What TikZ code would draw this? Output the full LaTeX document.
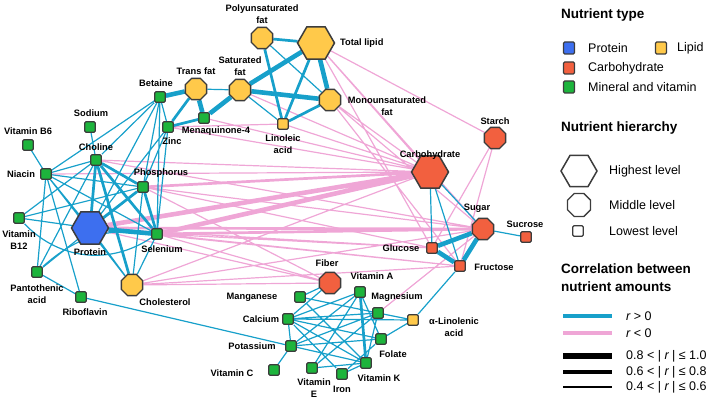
\documentclass[tikz,border=0pt]{standalone}
\usepackage{fontspec}
\setmainfont{Liberation Sans}
\usetikzlibrary{shapes.geometric}
\definecolor{protblue}{HTML}{3D6FEF}
\definecolor{lipyellow}{HTML}{FFC94A}
\definecolor{carbred}{HTML}{F2603F}
\definecolor{minegreen}{HTML}{1DB43C}
\definecolor{nodeline}{HTML}{3C3C3C}
\definecolor{posline}{HTML}{17A0CA}
\definecolor{negline}{HTML}{EFA6D6}
\pgfdeclarelayer{bg}
\pgfsetlayers{bg,main}
\tikzset{
  lowest/.style={rectangle, draw=nodeline, line width=1.3pt, rounded corners=1.2pt, minimum size=10.5pt, inner sep=0pt},
  middle/.style={regular polygon, regular polygon sides=8, draw=nodeline, line width=1.3pt, minimum size=23pt, inner sep=0pt},
  highest/.style={regular polygon, regular polygon sides=6, draw=nodeline, line width=1.5pt, minimum size=37pt, inner sep=0pt},
  prot/.style={fill=protblue}, lip/.style={fill=lipyellow},
  carb/.style={fill=carbred}, mine/.style={fill=minegreen},
  lbl/.style={font=\bfseries\fontsize{9.3}{11.5}\selectfont, inner sep=0pt, align=center},
  legtext/.style={font=\fontsize{12.5}{15}\selectfont, inner sep=0pt, anchor=west},
  leghead/.style={font=\bfseries\fontsize{13.5}{18}\selectfont, inner sep=0pt, anchor=west, align=left},
  poscorr/.style={draw=posline}, negcorr/.style={draw=negline},
  lowr/.style={line width=1.2pt}, midr/.style={line width=2.7pt}, highr/.style={line width=4.6pt}
}
\begin{document}
\begin{tikzpicture}[x=1pt,y=-1pt]
\useasboundingbox (0,0) rectangle (711,401);

% lipids
\node [middle, lip] (poly) at (262,38) {};
\node [lbl] (polylbl) at (262,14) {Polyunsaturated\\fat};
\node [highest, lip] (total) at (316,43) {};
\node [lbl, anchor=west] (totallbl) at (340,43) {Total lipid};
\node [middle, lip] (trans) at (196,89) {};
\node [lbl] (translbl) at (196,71) {Trans fat};
\node [middle, lip] (sat) at (240,90) {};
\node [lbl] (satlbl) at (240,66) {Saturated\\fat};
\node [middle, lip] (mono) at (330,100) {};
\node [lbl] (monolbl) at (387,106) {Monounsaturated\\fat};
\node [lowest, lip] (lino) at (283,124) {};
\node [lbl] (linolbl) at (283,144) {Linoleic\\acid};
\node [middle, lip] (chol) at (132,285) {};
\node [lbl] (chollbl) at (165,302) {Cholesterol};
\node [lowest, lip] (alin) at (413,320) {};
\node [lbl] (alinlbl) at (454,327) {α-Linolenic\\acid};

% protein and the minerals round it
\node [highest, prot] (protein) at (90,228) {};
\node [lbl] (proteinlbl) at (90,252) {Protein};
\node [lowest, mine] (mena) at (204,118) {};
\node [lbl] (menalbl) at (216,131) {Menaquinone-4};
\node [lowest, mine] (beta) at (160,97) {};
\node [lbl] (betalbl) at (156,83) {Betaine};
\node [lowest, mine] (zinc) at (168,127) {};
\node [lbl] (zinclbl) at (172,141) {Zinc};
\node [lowest, mine] (sodium) at (90,127) {};
\node [lbl] (sodiumlbl) at (91,113) {Sodium};
\node [lowest, mine] (vitbsix) at (28,145) {};
\node [lbl] (vitbsixlbl) at (28,131) {Vitamin B6};
\node [lowest, mine] (choline) at (96,160) {};
\node [lbl] (cholinelbl) at (96,147) {Choline};
\node [lowest, mine] (niacin) at (46,174) {};
\node [lbl] (niacinlbl) at (21,174) {Niacin};
\node [lowest, mine] (phos) at (143,187) {};
\node [lbl] (phoslbl) at (161,173) {Phosphorus};
\node [lowest, mine] (vitbtw) at (19,218) {};
\node [lbl] (vitbtwlbl) at (19,240) {Vitamin\\B12};
\node [lowest, mine] (selen) at (157,234) {};
\node [lbl] (selenlbl) at (162,249) {Selenium};
\node [lowest, mine] (panto) at (37,272) {};
\node [lbl] (pantolbl) at (37,294) {Pantothenic\\acid};
\node [lowest, mine] (ribo) at (81,297) {};
\node [lbl] (ribolbl) at (85,312) {Riboflavin};

% carbohydrates
\node [highest, carb] (carb) at (430,172) {};
\node [lbl] (carblbl) at (430,155) {Carbohydrate};
\node [middle, carb] (starch) at (495,138) {};
\node [lbl] (starchlbl) at (495,121) {Starch};
\node [middle, carb] (sugar) at (483,229) {};
\node [lbl] (sugarlbl) at (477,208) {Sugar};
\node [lowest, carb] (sucrose) at (526,237) {};
\node [lbl] (sucroselbl) at (525,224) {Sucrose};
\node [lowest, carb] (glucose) at (432,248) {};
\node [lbl] (glucoselbl) at (401,248) {Glucose};
\node [lowest, carb] (fructose) at (460,266) {};
\node [lbl] (fructoselbl) at (494,267) {Fructose};
\node [middle, carb] (fiber) at (330,283) {};
\node [lbl] (fiberlbl) at (327,263) {Fiber};

% minerals and vitamins below
\node [lowest, mine] (vita) at (360,292) {};
\node [lbl] (vitalbl) at (372,276) {Vitamin A};
\node [lowest, mine] (mangan) at (300,297) {};
\node [lbl] (manganlbl) at (252,297) {Manganese};
\node [lowest, mine] (magnes) at (378,313) {};
\node [lbl] (magneslbl) at (397,297) {Magnesium};
\node [lowest, mine] (calcium) at (288,319) {};
\node [lbl] (calciumlbl) at (261,319) {Calcium};
\node [lowest, mine] (folate) at (381,339) {};
\node [lbl] (folatelbl) at (393,354) {Folate};
\node [lowest, mine] (potas) at (291,346) {};
\node [lbl] (potaslbl) at (252,346) {Potassium};
\node [lowest, mine] (vitk) at (366,363) {};
\node [lbl] (vitklbl) at (379,378) {Vitamin K};
\node [lowest, mine] (vitc) at (274,370) {};
\node [lbl] (vitclbl) at (232,373) {Vitamin C};
\node [lowest, mine] (vite) at (312,368) {};
\node [lbl] (vitelbl) at (314,388) {Vitamin\\E};
\node [lowest, mine] (iron) at (342,374) {};
\node [lbl] (ironlbl) at (342,389) {Iron};

\begin{pgfonlayer}{bg}
% r < 0
\draw [negcorr, highr] (carb) -- (protein) (carb) -- (selen);
\draw [negcorr, midr] (carb) -- (phos) (sugar) -- (protein) (sugar) -- (selen);
\draw [negcorr, lowr] (carb) -- (total) (carb) -- (choline) (carb) -- (niacin) (carb) -- (mono) (carb) -- (sat)
  (carb) -- (lino) (carb) -- (zinc) (carb) -- (chol) (carb) -- (mena)
  (sugar) -- (phos) (sugar) -- (choline) (sugar) -- (chol) (sugar) -- (total) (sugar) -- (mono)
  (starch) -- (total) (starch) -- (glucose) (starch) -- (fructose)
  (glucose) -- (phos) (glucose) -- (protein) (glucose) -- (selen) (glucose) -- (total)
  (fructose) -- (selen) (fructose) -- (protein) (fructose) -- (chol) (fructose) -- (mono)
  (fiber) -- (selen) (fiber) -- (protein) (fiber) -- (phos) (fiber) -- (chol)
  (magnes) -- (sugar) (lino) -- (zinc);
% r > 0, lipids
\draw [poscorr, highr] (total) -- (sat) (total) -- (mono) (sat) -- (mono)
  (trans) -- (mena) (sat) -- (mena) (trans) -- (beta);
\draw [poscorr, midr] (poly) -- (total) (poly) -- (lino) (total) -- (lino) (mono) -- (lino)
  (trans) -- (zinc) (zinc) -- (mena);
\draw [poscorr, lowr] (poly) -- (mono) (sat) -- (lino) (trans) -- (sat) (beta) -- (zinc);
% r > 0, protein group
\draw [poscorr, highr] (protein) -- (selen);
\draw [poscorr, midr] (choline) -- (phos) (choline) -- (protein) (choline) -- (selen) (choline) -- (chol)
  (phos) -- (protein) (phos) -- (selen);
\draw [poscorr, lowr] (vitbsix) -- (niacin) (sodium) -- (choline) (choline) -- (niacin)
  (choline) -- (beta) (niacin) -- (beta) (choline) -- (vitbtw) (choline) -- (panto)
  (niacin) -- (phos) (niacin) -- (selen) (niacin) -- (protein) (niacin) -- (panto)
  (niacin) -- (ribo) (niacin) -- (chol) (phos) -- (zinc) (phos) -- (beta) (phos) -- (vitbtw)
  (phos) -- (panto) (phos) -- (chol) (protein) -- (chol) (protein) -- (beta)
  (zinc) -- (selen) (zinc) -- (protein) (selen) -- (chol) (beta) -- (selen)
  (vitbtw) -- (protein) (panto) -- (ribo) (ribo) -- (potas);
\draw [poscorr, lowr] (vitbtw) to [bend right=40] (selen);
\draw [poscorr, lowr] (panto) to [bend left=25] (selen);
% r > 0, carbohydrates
\draw [poscorr, highr] (sugar) -- (glucose) (sugar) -- (fructose) (glucose) -- (fructose);
\draw [poscorr, lowr] (carb) -- (glucose) (carb) -- (fructose) (carb) -- (sugar)
  (sugar) -- (sucrose) (fructose) -- (alin);
% r > 0, minerals and vitamins
\draw [poscorr, midr] (vita) -- (vitk);
\draw [poscorr, lowr] (fiber) -- (mangan) (fiber) -- (calcium) (vita) -- (potas) (vita) -- (folate)
  (vita) -- (vite) (vita) -- (calcium) (mangan) -- (magnes) (mangan) -- (vitk)
  (calcium) -- (magnes) (calcium) -- (folate) (calcium) -- (vitk) (calcium) -- (iron)
  (calcium) -- (potas) (calcium) -- (alin) (magnes) -- (alin) (magnes) -- (potas)
  (magnes) -- (vitk) (magnes) -- (vite) (folate) -- (alin) (folate) -- (potas)
  (potas) -- (vitc) (potas) -- (vitk) (vitk) -- (vite) (vitk) -- (iron) (iron) -- (folate);
\end{pgfonlayer}

% legend
\node [leghead] (typehead) at (561,15) {Nutrient type};
\node [lowest, prot, minimum width=11pt, minimum height=12pt] (legprot) at (569,48) {};
\node [legtext] (legprotlbl) at (588,48) {Protein};
\node [lowest, lip, minimum width=11pt, minimum height=12pt] (leglip) at (661,48) {};
\node [legtext] (legliplbl) at (677,48) {Lipid};
\node [lowest, carb, minimum width=11pt, minimum height=12pt] (legcarb) at (569,68) {};
\node [legtext] (legcarblbl) at (588,68) {Carbohydrate};
\node [lowest, mine, minimum width=11pt, minimum height=12pt] (legmine) at (569,87) {};
\node [legtext] (legminelbl) at (588,87) {Mineral and vitamin};

\node [leghead] (hierhead) at (561,128) {Nutrient hierarchy};
\node [highest, minimum size=36pt] (leghigh) at (579,171) {};
\node [legtext] (leghighlbl) at (609,171) {Highest level};
\node [middle, minimum size=25pt] (legmid) at (579,205) {};
\node [legtext] (legmidlbl) at (609,205) {Middle level};
\node [lowest] (leglow) at (578,231) {};
\node [legtext] (leglowlbl) at (609,231) {Lowest level};

\node [leghead] (corrhead) at (561,278) {Correlation between\\nutrient amounts};
\draw [posline, line width=4.2pt] (563,316) -- (612,316);
\node [legtext] (legposlbl) at (626,316) {{\itshape r} > 0};
\draw [negline, line width=4.2pt] (563,333) -- (612,333);
\node [legtext] (legneglbl) at (626,333) {{\itshape r} < 0};
\draw [black, line width=5.5pt] (563,356) -- (612,356);
\node [legtext] (leghighrlbl) at (626,356) {0.8 < | {\itshape r} | ≤ 1.0};
\draw [black, line width=3.6pt] (563,372) -- (612,372);
\node [legtext] (legmidrlbl) at (626,372) {0.6 < | {\itshape r} | ≤ 0.8};
\draw [black, line width=1.6pt] (563,387) -- (612,387);
\node [legtext] (leglowrlbl) at (626,387) {0.4 < | {\itshape r} | ≤ 0.6};
\end{tikzpicture}
\end{document}
